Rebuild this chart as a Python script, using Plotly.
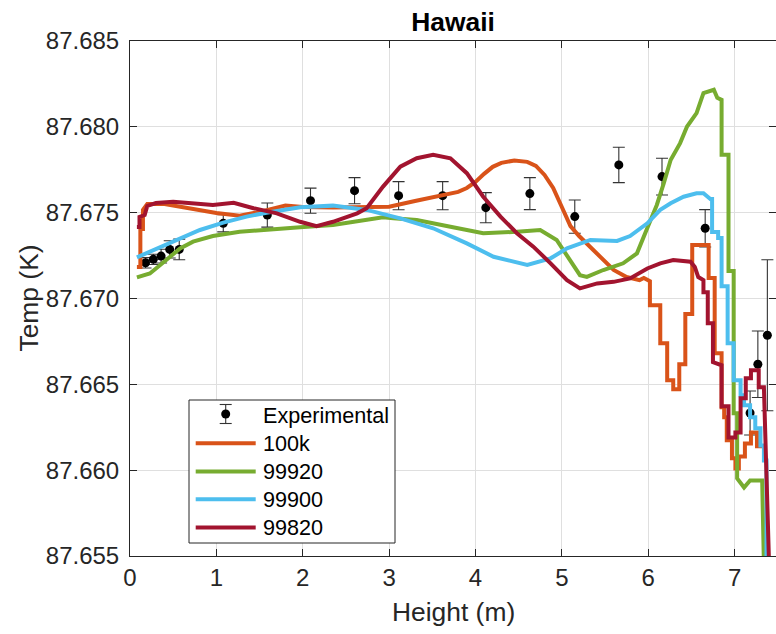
import plotly.graph_objects as go

# ---- experimental measurements ----
exp_x = [0.18, 0.27, 0.36, 0.46, 0.57, 1.08, 1.59, 2.09, 2.60, 3.11,
         3.62, 4.12, 4.63, 5.15, 5.66, 6.16, 6.66, 7.18, 7.27, 7.38]
exp_y = [87.67208, 87.67228, 87.67247, 87.67286, 87.67286, 87.67438, 87.67486,
         87.67570, 87.67628, 87.67599, 87.67599, 87.67529, 87.67611, 87.67477,
         87.67778, 87.67710, 87.67409, 87.66333, 87.66617, 87.66786]
exp_err = [0.0003, 0.0003, 0.0004, 0.0005, 0.0006, 0.0005, 0.0007, 0.00073,
           0.00076, 0.00082, 0.00082, 0.00088, 0.00093, 0.00097, 0.00103,
           0.00107, 0.00109, 0.00128, 0.00194, 0.0044]

# ---- simulated profiles ----
x_100k = [0.08, 0.12, 0.12, 0.15, 0.15, 0.20, 0.40, 0.60, 0.80, 1.00,
          1.27, 1.50, 1.80, 2.00, 2.35, 2.70, 3.00, 3.30, 3.60, 3.80,
          3.90, 4.00, 4.10, 4.20, 4.30, 4.45, 4.60, 4.70, 4.80, 4.90,
          5.00, 5.10, 5.20, 5.40, 5.60, 5.75, 5.90, 5.95, 6.02, 6.02,
          6.14, 6.14, 6.22, 6.22, 6.29, 6.29, 6.36, 6.36, 6.43, 6.43,
          6.51, 6.51, 6.70, 6.70, 6.77, 6.77, 6.85, 6.85, 6.88, 6.88,
          6.91, 6.91, 6.97, 6.97, 7.01, 7.01, 7.05, 7.05, 7.12, 7.12,
          7.19, 7.19, 7.26, 7.26, 7.32]
y_100k = [87.67183, 87.67183, 87.67405, 87.67405, 87.67516, 87.67551, 87.67551, 87.67533, 87.67516, 87.67498,
          87.67482, 87.67504, 87.67542, 87.67533, 87.67530, 87.67531, 87.67535, 87.67568, 87.67597, 87.67621,
          87.67644, 87.67679, 87.67726, 87.67767, 87.67790, 87.67804, 87.67796, 87.67772, 87.67720, 87.67644,
          87.67533, 87.67422, 87.67364, 87.67265, 87.67166, 87.67125, 87.67107, 87.67119, 87.67101, 87.66961,
          87.66961, 87.66740, 87.66740, 87.66524, 87.66524, 87.66471, 87.66471, 87.66617, 87.66617, 87.66909,
          87.66909, 87.67311, 87.67311, 87.67119, 87.67119, 87.66681, 87.66681, 87.66366, 87.66366, 87.66308,
          87.66308, 87.66174, 87.66174, 87.66069, 87.66069, 87.66010, 87.66010, 87.66080, 87.66080, 87.66156,
          87.66156, 87.66220, 87.66220, 87.66139, 87.66139]

x_99920 = [0.08, 0.15, 0.23, 0.35, 0.46, 0.58, 0.73, 0.96, 1.27, 1.58,
           1.97, 2.35, 2.55, 2.93, 3.05, 3.32, 3.71, 4.09, 4.48, 4.75,
           4.94, 5.10, 5.21, 5.29, 5.48, 5.71, 5.87, 5.99, 6.10, 6.18,
           6.26, 6.37, 6.45, 6.56, 6.64, 6.76, 6.80, 6.85, 6.85, 6.93,
           6.93, 6.99, 6.99, 7.03, 7.03, 7.11, 7.18, 7.32, 7.34]
y_99920 = [87.67123, 87.67131, 87.67146, 87.67195, 87.67243, 87.67292, 87.67331, 87.67364, 87.67389, 87.67403,
           87.67415, 87.67428, 87.67442, 87.67473, 87.67467, 87.67457, 87.67418, 87.67380, 87.67389, 87.67399,
           87.67341, 87.67224, 87.67136, 87.67126, 87.67166, 87.67205, 87.67263, 87.67411, 87.67545, 87.67671,
           87.67807, 87.67905, 87.68002, 87.68080, 87.68197, 87.68216, 87.68169, 87.68157, 87.67837, 87.67837,
           87.67160, 87.67160, 87.66331, 87.66331, 87.65952, 87.65899, 87.65940, 87.65940, 87.65450]

x_99900 = [0.08, 0.23, 0.43, 0.62, 0.81, 1.08, 1.35, 1.58, 1.97, 2.35,
           2.74, 3.13, 3.51, 3.90, 4.21, 4.60, 4.87, 5.06, 5.33, 5.64,
           5.79, 5.99, 6.14, 6.26, 6.41, 6.56, 6.64, 6.72, 6.74, 6.74,
           6.81, 6.81, 6.85, 6.85, 6.92, 6.92, 6.99, 6.99, 7.07, 7.07,
           7.11, 7.11, 7.18, 7.18, 7.24, 7.24, 7.30, 7.30, 7.34, 7.34,
           7.37, 7.37]
y_99900 = [87.67240, 87.67272, 87.67317, 87.67356, 87.67399, 87.67442, 87.67477, 87.67500, 87.67531, 87.67541,
           87.67516, 87.67467, 87.67409, 87.67321, 87.67243, 87.67195, 87.67234, 87.67292, 87.67341, 87.67335,
           87.67364, 87.67438, 87.67516, 87.67555, 87.67593, 87.67613, 87.67613, 87.67580, 87.67580, 87.67387,
           87.67387, 87.67352, 87.67352, 87.67072, 87.67072, 87.66740, 87.66740, 87.66524, 87.66524, 87.66436,
           87.66436, 87.66378, 87.66378, 87.66308, 87.66308, 87.66244, 87.66244, 87.66144, 87.66144, 87.66057,
           87.66057, 87.65450]

x_99820 = [0.08, 0.11, 0.11, 0.17, 0.20, 0.30, 0.50, 0.73, 0.96, 1.20,
           1.43, 1.70, 1.97, 2.16, 2.35, 2.63, 2.74, 2.93, 3.13, 3.32,
           3.51, 3.71, 3.90, 4.09, 4.29, 4.48, 4.67, 4.87, 5.06, 5.21,
           5.41, 5.60, 5.79, 5.99, 6.14, 6.29, 6.49, 6.54, 6.58, 6.64,
           6.64, 6.69, 6.69, 6.75, 6.75, 6.85, 6.85, 6.93, 6.93, 7.01,
           7.01, 7.07, 7.07, 7.13, 7.13, 7.19, 7.19, 7.28, 7.28, 7.34,
           7.36, 7.38, 7.40]
y_99820 = [87.67416, 87.67416, 87.67475, 87.67486, 87.67539, 87.67556, 87.67564, 87.67555, 87.67545, 87.67558,
           87.67526, 87.67496, 87.67447, 87.67422, 87.67447, 87.67496, 87.67526, 87.67652, 87.67768, 87.67817,
           87.67837, 87.67817, 87.67730, 87.67593, 87.67477, 87.67380, 87.67302, 87.67205, 87.67107, 87.67059,
           87.67088, 87.67097, 87.67117, 87.67175, 87.67205, 87.67224, 87.67214, 87.67183, 87.67125, 87.67107,
           87.67037, 87.67037, 87.66856, 87.66856, 87.66629, 87.66611, 87.66372, 87.66372, 87.66191, 87.66191,
           87.66220, 87.66220, 87.66419, 87.66419, 87.66535, 87.66535, 87.66582, 87.66582, 87.66483, 87.66483,
           87.66133, 87.65940, 87.65450]

x_ticks = [0, 1, 2, 3, 4, 5, 6, 7]
y_ticks = [87.655, 87.660, 87.665, 87.670, 87.675, 87.680, 87.685]

series_names = ["100k", "99920", "99900", "99820"]
series_x = [x_100k, x_99920, x_99900, x_99820]
series_y = [y_100k, y_99920, y_99900, y_99820]
series_colors = ["#D95319", "#77AC30", "#4DBEEE", "#A2142F"]

FONT = "Arial, Liberation Sans, Helvetica, sans-serif"
AXIS_COLOR = "#262626"
GRID_COLOR = "#dfdfdf"
ERR_COLOR = "#333333"

# figure / plot-area geometry in pixels
W, H = 776, 634
L, R, T, B = 130, 0, 41, 78
PW, PH = W - L - R, H - T - B


def px(xp):
    """pixel column -> paper x"""
    return (xp - L) / PW


def py(yp):
    """pixel row -> paper y"""
    return (H - B - yp) / PH


fig = go.Figure()

fig.add_trace(go.Scatter(
    x=exp_x, y=exp_y, mode="markers", name="Experimental", showlegend=False,
    marker=dict(color="black", size=9),
    error_y=dict(type="data", array=exp_err, visible=True,
                 color=ERR_COLOR, thickness=1.1, width=6),
))

for name, xs, ys, color in zip(series_names, series_x, series_y, series_colors):
    fig.add_trace(go.Scatter(
        x=xs, y=ys, mode="lines", name=name, showlegend=False,
        line=dict(color=color, width=4),
    ))

axis_common = dict(
    showline=True, linecolor=AXIS_COLOR, linewidth=1, mirror="ticks",
    ticks="inside", ticklen=7, tickwidth=1, tickcolor=AXIS_COLOR,
    showgrid=True, gridcolor=GRID_COLOR, gridwidth=1, zeroline=False,
    tickfont=dict(family=FONT, size=24, color=AXIS_COLOR),
)

fig.update_xaxes(range=[0, 7.48], tickvals=x_ticks,
                 ticktext=[str(v) for v in x_ticks], **axis_common)
fig.update_yaxes(range=[87.655, 87.685], tickvals=y_ticks,
                 ticktext=[f"{v:.3f}" for v in y_ticks],
                 ticklabelstandoff=5, **axis_common)

# ---- legend box drawn in paper coordinates ----
leg_left, leg_right, leg_top, leg_bottom = 189, 395, 400, 543
row_y = [415, 443.3, 471.5, 499.3, 527.5]
sym_x0, sym_x1, text_x = 195.7, 255.7, 260.7
sym_mid = (sym_x0 + sym_x1) / 2

shapes = [dict(type="rect", xref="paper", yref="paper", layer="above",
               x0=px(leg_left), x1=px(leg_right), y0=py(leg_bottom), y1=py(leg_top),
               fillcolor="white", line=dict(color=AXIS_COLOR, width=1))]

# experimental symbol: marker with error bar and caps
ey = row_y[0] - 1
shapes.append(dict(type="line", xref="paper", yref="paper", layer="above",
                   x0=px(sym_mid), x1=px(sym_mid), y0=py(ey - 9.5), y1=py(ey + 9.5),
                   line=dict(color=ERR_COLOR, width=1.1)))
for cy in (ey - 9.5, ey + 9.5):
    shapes.append(dict(type="line", xref="paper", yref="paper", layer="above",
                       x0=px(sym_mid - 6), x1=px(sym_mid + 6), y0=py(cy), y1=py(cy),
                       line=dict(color=ERR_COLOR, width=1.1)))
shapes.append(dict(type="circle", xref="paper", yref="paper", layer="above",
                   xsizemode="pixel", ysizemode="pixel",
                   xanchor=px(sym_mid), yanchor=py(ey),
                   x0=-4.5, x1=4.5, y0=-4.5, y1=4.5,
                   fillcolor="black", line=dict(color="black", width=0)))

for ry, color in zip(row_y[1:], series_colors):
    shapes.append(dict(type="line", xref="paper", yref="paper", layer="above",
                       x0=px(sym_x0), x1=px(sym_x1), y0=py(ry), y1=py(ry),
                       line=dict(color=color, width=4)))

legend_labels = ["Experimental"] + series_names
annotations = [
    dict(text=lbl, xref="paper", yref="paper", x=px(text_x), y=py(ry),
         xanchor="left", yanchor="middle", showarrow=False,
         font=dict(family=FONT, size=21.6, color="black"))
    for lbl, ry in zip(legend_labels, row_y)
]

annotations += [
    dict(text="Height (m)", xref="paper", yref="paper", x=0.5, y=py(612),
         xanchor="center", yanchor="middle", showarrow=False,
         font=dict(family=FONT, size=26.4, color=AXIS_COLOR)),
    dict(text="Temp (K)", xref="paper", yref="paper", x=px(28), y=0.5,
         xanchor="center", yanchor="middle", showarrow=False, textangle=-90,
         font=dict(family=FONT, size=26.4, color=AXIS_COLOR)),
]

fig.update_layout(
    width=W, height=H,
    margin=dict(l=L, r=R, t=T, b=B),
    paper_bgcolor="white", plot_bgcolor="white",
    title=dict(text="<b>Hawaii</b>", x=(L + W - R) / 2 / W, xanchor="center",
               yref="container", y=1 - 22 / H, yanchor="middle",
               font=dict(family=FONT, size=26.4, color="black")),
    showlegend=False,
    shapes=shapes,
    annotations=annotations,
)

fig.write_html("out.html")
